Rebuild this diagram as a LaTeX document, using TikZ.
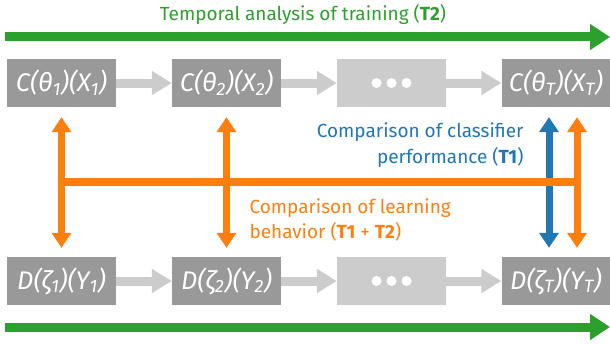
\documentclass[tikz,border=0pt]{standalone}
\usepackage{fontspec}
\setmainfont{Fira Sans}
\usepackage{xcolor}
\usetikzlibrary{arrows.meta}

\definecolor{tgreen}{HTML}{2CA02C}
\definecolor{torange}{HTML}{FF7F0E}
\definecolor{tblue}{HTML}{1F77B4}
\definecolor{boxGray}{HTML}{999999}
\definecolor{paleGray}{HTML}{CCCCCC}

\begin{document}
\begin{tikzpicture}[x=1pt,y=-1pt,
    box/.style={rectangle,fill=boxGray,text=white,minimum width=109pt,minimum height=48pt,inner sep=0pt,font=\fontsize{25.5}{27}\selectfont\itshape},
    dotbox/.style={box,fill=paleGray},
    label/.style={font=\fontsize{19}{25.5}\selectfont},
    Flow/.style={-{Triangle[length=20pt,width=25pt]},line width=9pt,tgreen},
    StepArr/.style={-{Triangle[length=20pt,width=23pt]},line width=9pt,paleGray},
    Both/.style={{Triangle[length=15pt,width=19pt]}-{Triangle[length=15pt,width=19pt]},line width=7pt},
                        ]
    \useasboundingbox (0,0) rectangle (610,345);

    % classifier row
    \node[box] (c1_node) at (61.5,83) {C(θ\textsubscript{1})(X\textsubscript{1})};
    \node[box] (c2_node) at (226.5,83) {C(θ\textsubscript{2})(X\textsubscript{2})};
    \node[dotbox] (cdots_node) at (391.5,83) {};
    \node[box] (cT_node) at (556,83) {C(θ\textsubscript{T})(X\textsubscript{T})};

    % data row
    \node[box] (d1_node) at (61.5,281) {D(ζ\textsubscript{1})(Y\textsubscript{1})};
    \node[box] (d2_node) at (226.5,281) {D(ζ\textsubscript{2})(Y\textsubscript{2})};
    \node[dotbox] (ddots_node) at (391.5,281) {};
    \node[box] (dT_node) at (556,281) {D(ζ\textsubscript{T})(Y\textsubscript{T})};

    \foreach \n in {cdots_node,ddots_node}
        \foreach \dx in {-15,0,15}
            \fill[white] ([xshift=\dx pt]\n.center) circle (5pt);

    \foreach \a/\b in {c1/c2,c2/cdots,cdots/cT,d1/d2,d2/ddots,ddots/dT}
        \draw[StepArr] (\a_node) -- (\b_node);

    % time axis
    \coordinate (top_start) at (5,37);
    \coordinate (top_end) at (610,37);
    \coordinate (bot_start) at (5,327);
    \coordinate (bot_end) at (610,327);
    \draw[Flow] (top_start) -- (top_end);
    \draw[Flow] (bot_start) -- (bot_end);
    \node[label,text=tgreen] (title_node) at (303,14) {Temporal analysis of training (\textbf{T2})};

    % comparisons
    \draw[Both,tblue,shorten <=10pt,shorten >=9pt] ([xshift=-7pt]cT_node.south) -- ([xshift=-7pt]dT_node.north);
    \draw[Both,torange,shorten <=10pt,shorten >=9pt] (c1_node) -- (d1_node);
    \draw[Both,torange,shorten <=10pt,shorten >=9pt] (c2_node) -- (d2_node);
    \draw[Both,torange,shorten <=10pt,shorten >=9pt] ([xshift=21pt]cT_node.south) -- ([xshift=21pt]dT_node.north);
    \path (c1_node) -- (d1_node) coordinate[midway] (bar_left);
    \path ([xshift=21pt]cT_node.south) -- ([xshift=21pt]dT_node.north) coordinate[midway] (bar_right);
    \draw[torange,line width=8pt] (bar_left) -- (bar_right);

    \node[label,text=tblue,align=right,anchor=east] (t1_node) at (527,145) {Comparison of classifier\\performance (\textbf{T1})};
    \node[label,text=torange,align=left,anchor=west] (t12_node) at (246,220) {Comparison of learning\\behavior (\textbf{T1} + \textbf{T2})};
\end{tikzpicture}
\end{document}
